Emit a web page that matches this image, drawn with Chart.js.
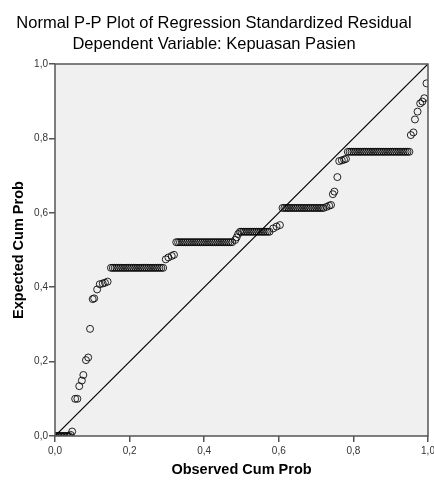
<!DOCTYPE html>
<html>
<head>
<meta charset="utf-8">
<script src="https://cdn.jsdelivr.net/npm/chart.js@4.4.1/dist/chart.umd.min.js"></script>
<style>
  html, body { margin: 0; padding: 0; background: #ffffff; }
  #wrap { width: 434px; height: 481px; }
</style>
</head>
<body>
<div id="wrap"><canvas id="ppChart" width="434" height="481"></canvas></div>
<script>
// observed cum prob (x) and expected cum prob (y)
var observedProb = [
    0.002, 0.006, 0.010, 0.014, 0.018, 0.022, 0.026, 0.030, 0.034, 0.038, 0.042, 0.046,
    0.054, 0.06, 0.065, 0.072, 0.076, 0.083, 0.089, 0.094, 0.101, 0.105, 0.113,
    0.12, 0.128, 0.134, 0.141,
    // row at 0,45
    0.150, 0.155, 0.160, 0.165, 0.170, 0.175, 0.180, 0.185, 0.190, 0.195,
    0.200, 0.205, 0.210, 0.215, 0.220, 0.225, 0.230, 0.235, 0.240, 0.245,
    0.250, 0.255, 0.260, 0.265, 0.270, 0.275, 0.280, 0.285, 0.290,
    0.297, 0.304, 0.313, 0.319,
    // row at 0,52
    0.325, 0.330, 0.335, 0.340, 0.345, 0.350, 0.355, 0.360, 0.365, 0.370,
    0.375, 0.380, 0.385, 0.390, 0.395, 0.400, 0.405, 0.410, 0.415, 0.420,
    0.425, 0.430, 0.435, 0.440, 0.445, 0.450, 0.455, 0.460, 0.465, 0.470,
    0.475,
    0.483, 0.487, 0.491, 0.496,
    // row at 0,55
    0.500, 0.505, 0.510, 0.515, 0.520, 0.525, 0.530, 0.535, 0.540, 0.545,
    0.550, 0.555, 0.560, 0.565, 0.570, 0.575,
    0.585, 0.594, 0.603,
    // row at 0,61
    0.610, 0.615, 0.620, 0.625, 0.630, 0.635, 0.640, 0.645, 0.650, 0.655,
    0.660, 0.665, 0.670, 0.675, 0.680, 0.685, 0.690, 0.695, 0.700, 0.705,
    0.710, 0.715, 0.720,
    0.728, 0.735, 0.74, 0.745, 0.749, 0.757, 0.762, 0.769, 0.775, 0.78,
    // row at 0,76
    0.785, 0.790, 0.795, 0.800, 0.805, 0.810, 0.815, 0.820, 0.825, 0.830,
    0.835, 0.840, 0.845, 0.850, 0.855, 0.860, 0.865, 0.870, 0.875, 0.880,
    0.885, 0.890, 0.895, 0.900, 0.905, 0.910, 0.915, 0.920, 0.925, 0.930,
    0.935, 0.940, 0.945, 0.950,
    0.954, 0.961, 0.965, 0.972, 0.979, 0.985, 0.99, 0.996
];
var expectedProb = [
    0.0, 0.0, 0.0, 0.0, 0.0, 0.0, 0.0, 0.0, 0.0, 0.0, 0.003, 0.012,
    0.10, 0.10, 0.134, 0.149, 0.164, 0.204, 0.211, 0.288, 0.368, 0.370, 0.394,
    0.408, 0.41, 0.412, 0.415,
    0.452, 0.452, 0.452, 0.452, 0.452, 0.452, 0.452, 0.452, 0.452, 0.452,
    0.452, 0.452, 0.452, 0.452, 0.452, 0.452, 0.452, 0.452, 0.452, 0.452,
    0.452, 0.452, 0.452, 0.452, 0.452, 0.452, 0.452, 0.452, 0.452,
    0.475, 0.48, 0.484, 0.487,
    0.521, 0.521, 0.521, 0.521, 0.521, 0.521, 0.521, 0.521, 0.521, 0.521,
    0.521, 0.521, 0.521, 0.521, 0.521, 0.521, 0.521, 0.521, 0.521, 0.521,
    0.521, 0.521, 0.521, 0.521, 0.521, 0.521, 0.521, 0.521, 0.521, 0.521,
    0.521,
    0.527, 0.534, 0.543, 0.549,
    0.549, 0.549, 0.549, 0.549, 0.549, 0.549, 0.549, 0.549, 0.549, 0.549,
    0.549, 0.549, 0.549, 0.549, 0.549, 0.549,
    0.558, 0.563, 0.567,
    0.613, 0.613, 0.613, 0.613, 0.613, 0.613, 0.613, 0.613, 0.613, 0.613,
    0.613, 0.613, 0.613, 0.613, 0.613, 0.613, 0.613, 0.613, 0.613, 0.613,
    0.613, 0.613, 0.613,
    0.616, 0.619, 0.621, 0.650, 0.657, 0.696, 0.739, 0.741, 0.743, 0.745,
    0.764, 0.764, 0.764, 0.764, 0.764, 0.764, 0.764, 0.764, 0.764, 0.764,
    0.764, 0.764, 0.764, 0.764, 0.764, 0.764, 0.764, 0.764, 0.764, 0.764,
    0.764, 0.764, 0.764, 0.764, 0.764, 0.764, 0.764, 0.764, 0.764, 0.764,
    0.764, 0.764, 0.764, 0.764,
    0.809, 0.816, 0.851, 0.872, 0.894, 0.899, 0.908, 0.948
];
// reference diagonal
var diagX = [0, 1];
var diagY = [0, 1];
var tickValues = [0, 0.2, 0.4, 0.6, 0.8, 1.0];

var FONT = "Arial, 'Liberation Sans', sans-serif";

function toPoints(xs, ys) {
    var pts = [];
    for (var i = 0; i < xs.length; i++) {
        pts.push({ x: xs[i], y: ys[i] });
    }
    return pts;
}

function commaLabel(v) {
    return v.toFixed(1).replace('.', ',');
}

// grey plot background + box round the plot area
var plotBox = {
    id: 'plotBox',
    beforeDraw: function(chart) {
        var a = chart.chartArea;
        var ctx = chart.ctx;
        ctx.save();
        ctx.fillStyle = '#f0f0f0';
        ctx.fillRect(a.left, a.top, a.right - a.left, a.bottom - a.top);
        ctx.restore();
    },
    afterDraw: function(chart) {
        var a = chart.chartArea;
        var ctx = chart.ctx;
        ctx.save();
        ctx.strokeStyle = '#555555';
        ctx.lineWidth = 1.5;
        ctx.strokeRect(a.left, a.top, a.right - a.left, a.bottom - a.top);
        ctx.restore();
    }
};

var axisTicks = function(axis) {
    axis.ticks = tickValues.map(function(v) { return { value: v }; });
};

var ppChart = new Chart(document.getElementById('ppChart'), {
    type: 'scatter',
    data: {
        datasets: [
            {
                data: toPoints(observedProb, expectedProb),
                pointStyle: 'circle',
                pointRadius: 3.5,
                pointHoverRadius: 3.5,
                pointBorderWidth: 1,
                pointBackgroundColor: 'rgba(0,0,0,0)',
                pointBorderColor: 'rgba(0,0,0,0.85)'
            },
            {
                type: 'line',
                data: toPoints(diagX, diagY),
                borderColor: '#000000',
                borderWidth: 1.2,
                pointRadius: 0,
                fill: false
            }
        ]
    },
    options: {
        responsive: false,
        animation: false,
        events: [],
        layout: { padding: { left: 0, right: 6, top: 0, bottom: 0 } },
        plugins: {
            legend: { display: false },
            tooltip: { enabled: false },
            title: {
                display: true,
                text: 'Normal P-P Plot of Regression Standardized Residual',
                color: '#000000',
                font: { family: FONT, size: 16.5, weight: 'normal', lineHeight: 1.2 },
                padding: { top: 14, bottom: 0 }
            },
            subtitle: {
                display: true,
                text: 'Dependent Variable: Kepuasan Pasien',
                color: '#000000',
                font: { family: FONT, size: 16.5, weight: 'normal', lineHeight: 1.2 },
                padding: { top: 0.5, bottom: 9.9 }
            }
        },
        scales: {
            x: {
                type: 'linear',
                min: 0,
                max: 1,
                afterBuildTicks: axisTicks,
                afterFit: function(scale) {
                    scale.height = 45;
                    scale.paddingLeft = 0;
                    scale.paddingRight = 0;
                },
                grid: {
                    drawOnChartArea: false,
                    drawTicks: true,
                    tickLength: 6,
                    color: '#555555',
                    lineWidth: 1.5
                },
                border: { display: false },
                ticks: {
                    callback: commaLabel,
                    color: '#333333',
                    padding: 3,
                    maxRotation: 0,
                    font: { family: FONT, size: 10 }
                },
                title: {
                    display: true,
                    text: 'Observed Cum Prob',
                    color: '#000000',
                    font: { family: FONT, size: 14.5, weight: 'bold', lineHeight: 1.2 },
                    padding: { top: 0, bottom: 2 }
                }
            },
            y: {
                type: 'linear',
                min: 0,
                max: 1,
                afterBuildTicks: axisTicks,
                afterFit: function(scale) {
                    scale.width = 55;
                    scale.paddingTop = 0;
                    scale.paddingBottom = 0;
                },
                grid: {
                    drawOnChartArea: false,
                    drawTicks: true,
                    tickLength: 6,
                    color: '#555555',
                    lineWidth: 1.5
                },
                border: { display: false },
                ticks: {
                    callback: commaLabel,
                    color: '#333333',
                    padding: 1,
                    font: { family: FONT, size: 10 }
                },
                title: {
                    display: true,
                    text: 'Expected Cum Prob',
                    color: '#000000',
                    font: { family: FONT, size: 14.5, weight: 'bold', lineHeight: 1.2 },
                    padding: { top: 10, bottom: 0 }
                }
            }
        }
    },
    plugins: [plotBox]
});
</script>
</body>
</html>
